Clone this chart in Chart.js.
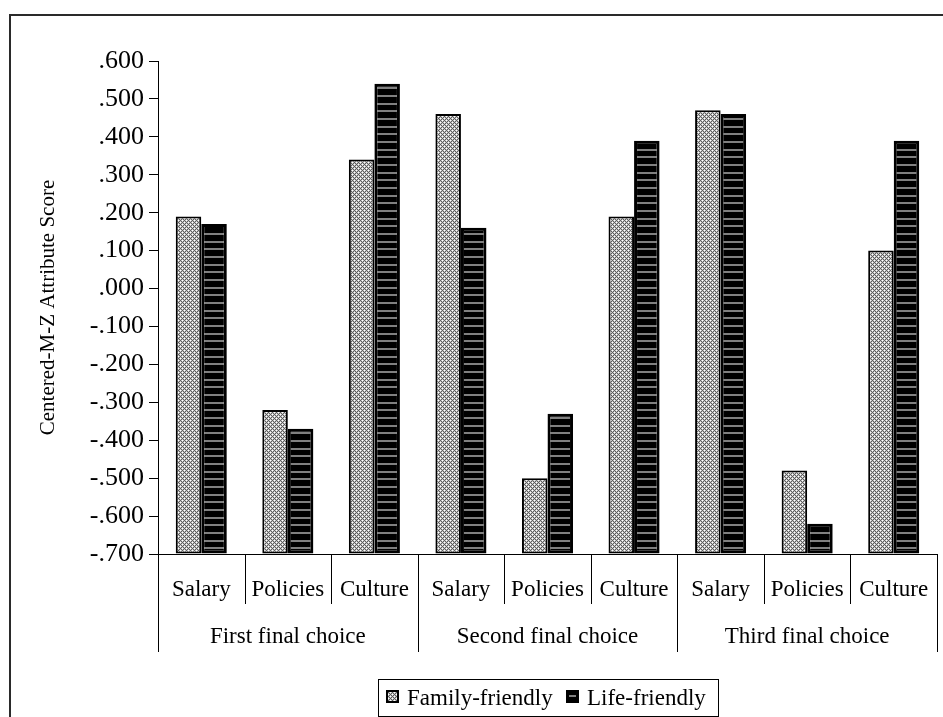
<!DOCTYPE html>
<html>
<head>
<meta charset="utf-8">
<script src="https://cdn.jsdelivr.net/npm/chart.js@4/dist/chart.umd.min.js"></script>
<style>
  html, body { margin: 0; padding: 0; background: #fff; }
  #wrap { width: 943px; height: 717px; position: relative; }
</style>
</head>
<body>
<div id="wrap"><canvas id="c" width="943" height="717"></canvas></div>
<script>
// Attribute categories and the final-choice groups they belong to
const categories = ['Salary', 'Policies', 'Culture', 'Salary', 'Policies', 'Culture', 'Salary', 'Policies', 'Culture'];
const groups = ['First final choice', 'Second final choice', 'Third final choice'];
const groupSize = 3;

// Centered M-Z attribute scores
const familyFriendly = [0.19, -0.32, 0.34, 0.46, -0.50, 0.19, 0.47, -0.48, 0.10];
const lifeFriendly   = [0.17, -0.37, 0.54, 0.16, -0.33, 0.39, 0.46, -0.62, 0.39];

const seriesNames = ['Family-friendly', 'Life-friendly'];
const yAxisTitle = 'Centered-M-Z Attribute Score';
const yMin = -0.7, yMax = 0.6, yStep = 0.1;

const SERIF = "'Liberation Serif', 'Times New Roman', serif";

// Diagonal crosshatch fill (grey X lattice with white diamonds)
function makeHatch() {
  const c = document.createElement('canvas');
  c.width = 4; c.height = 4;
  const g = c.getContext('2d');
  for (let x = 0; x < 4; x++) {
    for (let y = 0; y < 4; y++) {
      let col;
      if ((x + y) % 2 === 1) col = '#c6c6c6';
      else if ((x + y) % 4 === 0 || (x - y + 4) % 4 === 0) col = '#5c5c5c';
      else col = '#ffffff';
      g.fillStyle = col;
      g.fillRect(x, y, 1, 1);
    }
  }
  return g.createPattern(c, 'repeat');
}

// Black fill with thin grey horizontal stripes
function makeStripes() {
  const c = document.createElement('canvas');
  c.width = 4; c.height = 23;
  const g = c.getContext('2d');
  g.fillStyle = '#000';
  g.fillRect(0, 0, 4, 23);
  g.fillStyle = '#808080';
  [3, 11, 18].forEach(y => g.fillRect(0, y, 4, 2));
  return g.createPattern(c, 'repeat');
}

const ctx = document.getElementById('c').getContext('2d');
const hatch = makeHatch();
const stripes = makeStripes();

function fmtTick(v) {
  const r = Math.round(v * 1000) / 1000;
  const s = Math.abs(r).toFixed(3).replace(/^0/, '');
  return (r < 0 ? '-' : '') + s;
}

const decorPlugin = {
  id: 'decor',
  beforeDraw(chart) {
    const g = chart.ctx;
    g.save();
    g.fillStyle = '#fff';
    g.fillRect(0, 0, chart.width, chart.height);
    // outer frame
    g.strokeStyle = '#2a2a2a';
    g.lineWidth = 2;
    g.beginPath();
    g.moveTo(10, chart.height + 2);
    g.lineTo(10, 15);
    g.lineTo(chart.width + 2, 15);
    g.stroke();
    g.restore();
  },
  afterDraw(chart) {
    const g = chart.ctx;
    const xs = chart.scales.x;
    const axisY = chart.chartArea.bottom;
    const n = categories.length;
    const px = i => xs.getPixelForValue(i);
    const edge = i => {
      if (i <= 0) return xs.left;
      if (i >= n) return xs.right;
      return (px(i - 1) + px(i)) / 2;
    };
    g.save();
    g.strokeStyle = '#000';
    g.lineWidth = 1;
    // category separators
    for (let i = 0; i <= n; i++) {
      const x = Math.round(edge(i)) + 0.5;
      const isGroup = i % groupSize === 0;
      g.beginPath();
      g.moveTo(x, axisY);
      g.lineTo(x, axisY + (isGroup ? 98 : 50));
      g.stroke();
    }
    // category labels
    g.fillStyle = '#000';
    g.font = '23px ' + SERIF;
    g.textAlign = 'center';
    g.textBaseline = 'alphabetic';
    categories.forEach((lab, i) => g.fillText(lab, px(i), axisY + 42));
    // group labels
    groups.forEach((lab, k) => {
      const cx = (edge(k * groupSize) + edge((k + 1) * groupSize)) / 2;
      g.fillText(lab, cx, axisY + 89);
    });

    // legend
    const lx = 378.5, ly = 679.5, lw = 340, lh = 37;
    g.fillStyle = '#fff';
    g.fillRect(lx, ly, lw, lh);
    g.strokeStyle = '#000';
    g.strokeRect(lx, ly, lw, lh);
    const items = [
      { x: 386, fill: hatch, text: seriesNames[0] },
      { x: 566, fill: '#000', text: seriesNames[1] }
    ];
    items.forEach((it, k) => {
      g.fillStyle = it.fill;
      g.fillRect(it.x, 690, 13, 13);
      if (k === 1) {
        g.fillStyle = '#808080';
        g.fillRect(it.x + 3, 695, 7, 2);
      }
      g.strokeStyle = '#000';
      g.lineWidth = 2;
      g.strokeRect(it.x + 1, 691, 11, 11);
      g.fillStyle = '#000';
      g.textAlign = 'left';
      g.fillText(it.text, it.x + 21, 705);
    });
    g.restore();
  }
};

new Chart(ctx, {
  type: 'bar',
  data: {
    labels: categories,
    datasets: [
      {
        label: seriesNames[0],
        data: familyFriendly,
        base: yMin,
        backgroundColor: hatch,
        borderColor: '#000',
        borderWidth: 2,
        borderSkipped: false,
        categoryPercentage: 0.59,
        barPercentage: 1.0
      },
      {
        label: seriesNames[1],
        data: lifeFriendly,
        base: yMin,
        backgroundColor: stripes,
        borderColor: '#000',
        borderWidth: 3,
        borderSkipped: false,
        categoryPercentage: 0.59,
        barPercentage: 1.0
      }
    ]
  },
  options: {
    responsive: false,
    animation: false,
    devicePixelRatio: 1,
    layout: { padding: { top: 61, right: 6, left: 0, bottom: 0 } },
    plugins: {
      legend: { display: false },
      tooltip: { enabled: false }
    },
    scales: {
      x: {
        grid: { display: true, drawOnChartArea: false, drawTicks: false },
        border: { display: true, color: '#000', width: 1 },
        ticks: { display: false },
        afterFit(scale) { scale.height = 163; }
      },
      y: {
        min: yMin,
        max: yMax,
        ticks: {
          stepSize: yStep,
          padding: 5,
          color: '#000',
          font: { family: SERIF, size: 26 },
          callback: v => fmtTick(v)
        },
        grid: { display: true, drawOnChartArea: false, drawTicks: true, tickLength: 9, color: '#000' },
        border: { display: true, color: '#000', width: 1 },
        title: {
          display: true,
          text: yAxisTitle,
          color: '#000',
          font: { family: SERIF, size: 21 },
          padding: { top: 36, bottom: 0 }
        },
        afterFit(scale) { scale.width = 158; }
      }
    }
  },
  plugins: [decorPlugin]
});
</script>
</body>
</html>
